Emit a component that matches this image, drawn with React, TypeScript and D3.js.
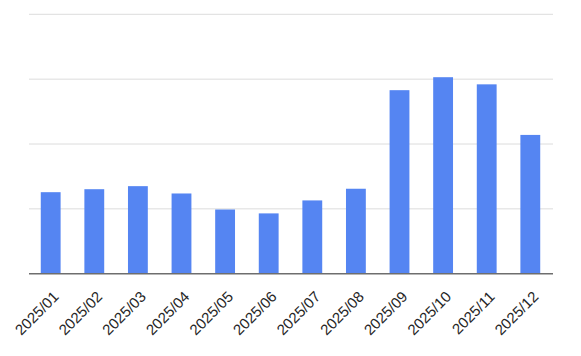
import React from "react";
import * as d3 from "d3";

const categories = ["2025/01","2025/02","2025/03","2025/04","2025/05","2025/06","2025/07","2025/08","2025/09","2025/10","2025/11","2025/12"];
const values = [1.257, 1.303, 1.35, 1.237, 0.99, 0.93, 1.13, 1.31, 2.83, 3.03, 2.92, 2.14];
const gridTicks = [1, 2, 3, 4];

const W = 581, H = 356;
const x0 = 29, x1 = 552, yTop = 14.3, yBase = 273.7;

export default function App() {
  const x = d3.scaleBand<string>().domain(categories).range([x0, x1]).paddingInner(0.545).paddingOuter(0.27);
  const y = d3.scaleLinear().domain([0, 4]).range([yBase, yTop]);
  return (
    <svg width={W} height={H} style={{ position: "absolute", left: 0, top: 0, fontFamily: "'Liberation Sans', Arial, sans-serif" }}>
      <rect width={W} height={H} fill="#fff" />
      {gridTicks.map((t) => (
        <line key={t} x1={x0} x2={x1 + 1} y1={y(t)} y2={y(t)} stroke="#dcdcdc" strokeWidth={1} />
      ))}
      {categories.map((c, i) => (
        <rect key={c} x={x(c)} y={y(values[i])} width={x.bandwidth()} height={yBase - y(values[i])} fill="#5585F2" />
      ))}
      <line x1={x0} x2={x1 + 1} y1={yBase} y2={yBase} stroke="#6e6e6e" strokeWidth={1.6} />
      {categories.map((c) => {
        const cx = (x(c) as number) + x.bandwidth() / 2 + 9;
        const cy = yBase + 24;
        return (
          <text key={c} x={cx} y={cy} transform={`rotate(-45 ${cx} ${cy})`} textAnchor="end" fontSize={15} fill="#262626">
            {c}
          </text>
        );
      })}
    </svg>
  );
}
